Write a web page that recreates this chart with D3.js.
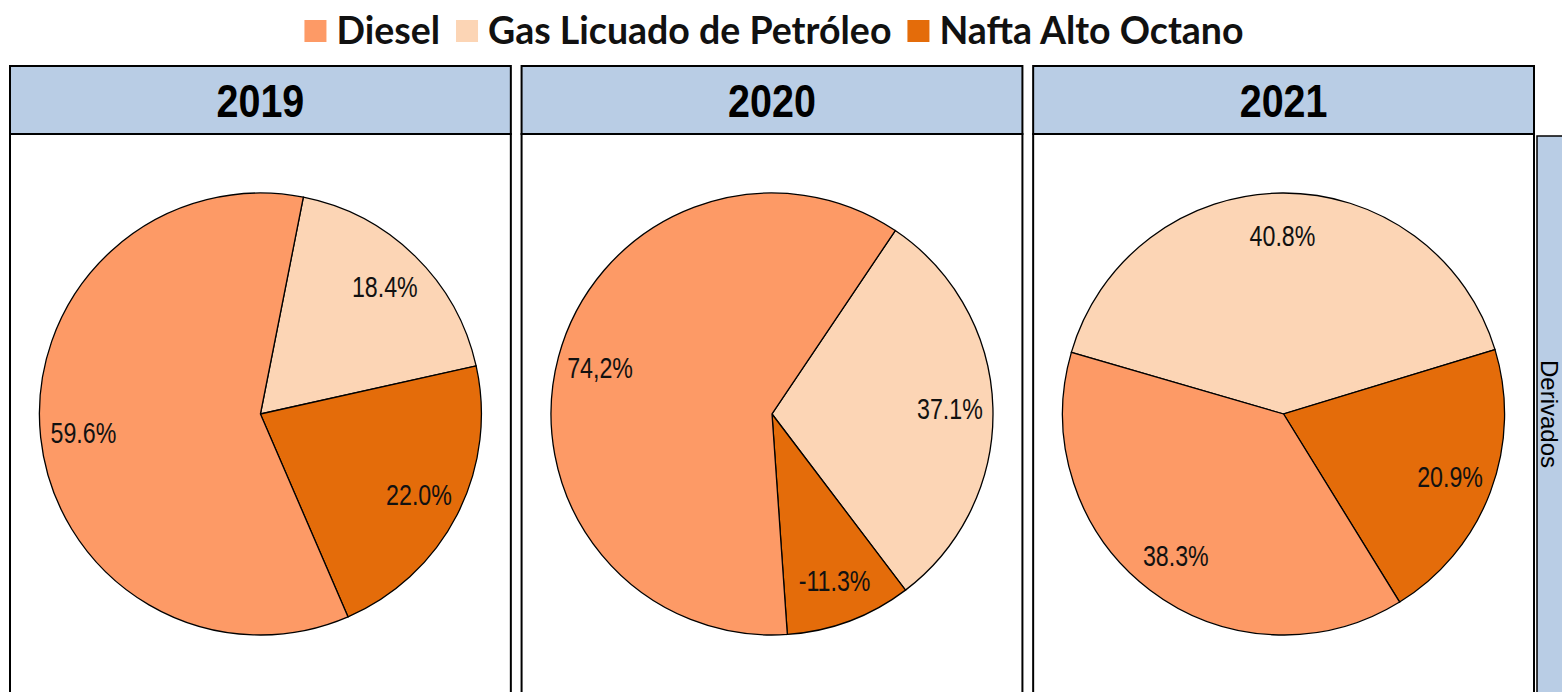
<!DOCTYPE html>
<html>
<head>
<meta charset="utf-8">
<script src="https://cdn.jsdelivr.net/npm/d3@7"></script>
<style>
  body { margin: 0; background: #fff; }
  svg { display: block; }
</style>
</head>
<body>
<script>
// data
var years = ['2019', '2020', '2021'];
var fuels = ['Diesel', 'Gas Licuado de Petróleo', 'Nafta Alto Octano'];
var diesel = [59.6, 74.2, 38.3];
var glp = [18.4, 37.1, 40.8];
var nafta = [22.0, -11.3, 20.9];
var labelText = [
  ['59.6%', '18.4%', '22.0%'],
  ['74,2%', '37.1%', '-11.3%'],
  ['38.3%', '40.8%', '20.9%']
];
// rotation of first slice (GLP) in degrees, clockwise from 12 o'clock
var startDeg = [11.2, 33.9, -73.8];
var stripLabel = 'Derivados';

var colors = { 'Diesel': '#FD9A66', 'Gas Licuado de Petróleo': '#FCD5B5', 'Nafta Alto Octano': '#E46C0A' };

var width = 1562, height = 692;
var svg = d3.select('body').append('svg')
  .attr('width', width)
  .attr('height', height);

var x = d3.scaleBand().domain(years).range([10, 1534]).paddingInner(0.021);
var headTop = 66, headBot = 134, cy = 414, R = 221;

// legend
var legend = svg.append('g');
var lx = 0;
fuels.forEach(function(f) {
  var g = legend.append('g').attr('transform', 'translate(' + lx + ',0)');
  g.append('rect').attr('x', 0).attr('y', -11).attr('width', 22).attr('height', 22)
    .attr('fill', colors[f]);
  var t = g.append('text').attr('x', 32).attr('y', 0).attr('dy', '0.35em')
    .style('font-family', 'Lato, "Open Sans", sans-serif').style('font-weight', 'bold')
    .style('font-size', '37.5px').attr('fill', '#111').text(f);
  lx += 32 + t.node().getComputedTextLength() + 16;
});
legend.attr('transform', 'translate(' + (774 - (lx - 16) / 2) + ',31)');

var arc = d3.arc().innerRadius(0).outerRadius(R);
var labelArc = d3.arc().innerRadius(178).outerRadius(178);
var narrow = '"Liberation Sans", Arial, sans-serif';

years.forEach(function(yr, i) {
  var x0 = x(yr), w = x.bandwidth(), cx = x0 + w / 2;
  var p = svg.append('g');

  // body frame
  p.append('rect').attr('x', x0).attr('y', headBot).attr('width', w).attr('height', height - headBot + 5)
    .attr('fill', '#fff').attr('stroke', '#000').attr('stroke-width', 2);
  // header
  p.append('rect').attr('x', x0).attr('y', headTop).attr('width', w).attr('height', headBot - headTop)
    .attr('fill', '#B9CDE5').attr('stroke', '#000').attr('stroke-width', 2);
  p.append('text').attr('transform', 'translate(' + cx + ',117) scale(0.84,1)')
    .attr('text-anchor', 'middle')
    .style('font-family', narrow)
    .style('font-weight', 'bold').style('font-size', '47px').text(yr);

  var rows = [
    { fuel: fuels[1], v: glp[i], lab: labelText[i][1] },
    { fuel: fuels[2], v: nafta[i], lab: labelText[i][2] },
    { fuel: fuels[0], v: diesel[i], lab: labelText[i][0] }
  ];
  var s = startDeg[i] * Math.PI / 180;
  var pie = d3.pie().sort(null).value(function(d) { return Math.abs(d.v); })
    .startAngle(s).endAngle(s + 2 * Math.PI);
  var arcs = pie(rows);

  var g = p.append('g').attr('transform', 'translate(' + cx + ',' + cy + ')');
  g.selectAll('path').data(arcs).enter().append('path')
    .attr('d', arc)
    .attr('fill', function(d) { return colors[d.data.fuel]; })
    .attr('stroke', '#000').attr('stroke-width', 1.3);
  g.selectAll('text').data(arcs).enter().append('text')
    .attr('transform', function(d) { return 'translate(' + labelArc.centroid(d) + ') scale(0.8,1)'; })
    .attr('text-anchor', 'middle').attr('dy', '0.35em')
    .style('font-family', narrow)
    .style('font-size', '29px').attr('fill', '#111')
    .text(function(d) { return d.data.lab; });
});

// right strip
svg.append('rect').attr('x', 1537).attr('y', 136).attr('width', 40).attr('height', height)
  .attr('fill', '#B9CDE5').attr('stroke', '#000').attr('stroke-width', 1.5);
svg.append('text').attr('transform', 'translate(1549,414) rotate(90)')
  .attr('text-anchor', 'middle').attr('dy', '0.35em')
  .style('font-family', narrow).style('font-size', '24px')
  .text(stripLabel);
</script>
</body>
</html>
